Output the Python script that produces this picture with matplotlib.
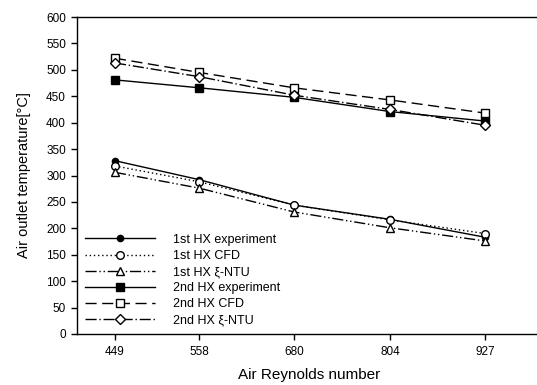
import matplotlib
matplotlib.use('Agg')
import matplotlib.pyplot as plt

# Air outlet temperature vs air Reynolds number for two heat exchangers
reynolds = [449, 558, 680, 804, 927]

hx1_experiment = [328, 292, 244, 217, 183]
hx1_cfd = [318, 288, 244, 216, 190]
hx1_ntu = [306, 276, 231, 201, 176]

hx2_experiment = [481, 466, 448, 421, 403]
hx2_cfd = [522, 495, 466, 443, 418]
hx2_ntu = [513, 487, 452, 425, 395]

plt.rcParams['font.family'] = ['Liberation Sans', 'DejaVu Sans']

fig = plt.figure(figsize=(5.37, 3.85), dpi=100)
ax = fig.add_axes([0.1434, 0.1325, 0.866, 0.8233])

lw = 1.0
ms = 5.5
ax.plot(reynolds, hx1_experiment, color='black', linestyle='-', lw=lw,
        marker='o', ms=4.5, mfc='black', mec='black', label='1st HX experiment')
ax.plot(reynolds, hx1_cfd, color='black', linestyle=(0, (1, 2)), lw=lw,
        marker='o', ms=ms, mfc='white', mec='black', label='1st HX CFD')
ax.plot(reynolds, hx1_ntu, color='black', linestyle=(0, (8, 2, 1, 2, 1, 2)), lw=lw,
        marker='^', ms=ms, mfc='white', mec='black', label='1st HX ξ-NTU')
ax.plot(reynolds, hx2_experiment, color='black', linestyle='-', lw=lw,
        marker='s', ms=ms, mfc='black', mec='black', label='2nd HX experiment')
ax.plot(reynolds, hx2_cfd, color='black', linestyle=(0, (8, 4)), lw=lw,
        marker='s', ms=ms, mfc='white', mec='black', label='2nd HX CFD')
ax.plot(reynolds, hx2_ntu, color='black', linestyle=(0, (8, 2, 1, 2)), lw=lw,
        marker='D', ms=5, mfc='white', mec='black', label='2nd HX ξ-NTU')

ax.set_xlim(400, 1000)
ax.set_ylim(0, 600)
ax.set_xticks(reynolds)
ax.set_yticks(range(0, 601, 50))
ax.tick_params(direction='out', length=4, width=1, labelsize=8.5)
ax.tick_params(axis='x', pad=5)
ax.tick_params(axis='y', pad=4)
ax.spines['right'].set_visible(False)
for side in ['left', 'bottom', 'top']:
    ax.spines[side].set_linewidth(1.0)

ax.set_xlabel('Air Reynolds number', fontsize=11, labelpad=7)
ax.set_ylabel('Air outlet temperature[°C]', fontsize=10.5, labelpad=11)

ax.legend(loc='lower left', frameon=False, fontsize=9, handlelength=5.6,
          handletextpad=1.5, labelspacing=0.33, borderaxespad=0.2,
          borderpad=0.4, bbox_to_anchor=(0.0, 0.0))

fig.savefig('out.png', dpi=100)
